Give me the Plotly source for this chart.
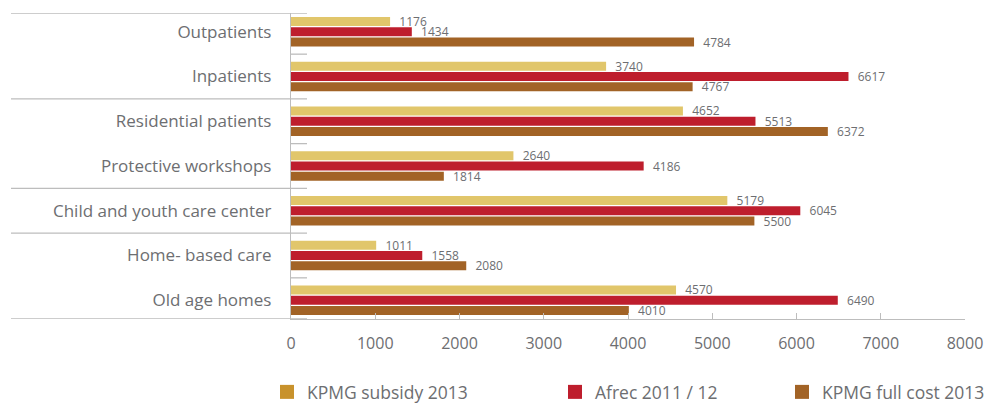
import plotly.graph_objects as go

categories = ["Outpatients", "Inpatients", "Residential patients", "Protective workshops",
              "Child and youth care center", "Home- based care", "Old age homes"]
kpmg_subsidy_2013 = [1176, 3740, 4652, 2640, 5179, 1011, 4570]
afrec_2011_12 = [1434, 6617, 5513, 4186, 6045, 1558, 6490]
kpmg_full_cost_2013 = [4784, 4767, 6372, 1814, 5500, 2080, 4010]
series_names = ["KPMG subsidy 2013", "Afrec 2011 / 12", "KPMG full cost 2013"]
x_ticks = [0, 1000, 2000, 3000, 4000, 5000, 6000, 7000, 8000]

bar_colors = ["#e1c66b", "#be1e2d", "#a26326"]
legend_colors = ["#c8922c", "#be1e2d", "#a26326"]
TEXT = "#6d6e71"
LINE = "#bdbdbd"
FONT = "Open Sans"

fig = go.Figure()
series = [kpmg_subsidy_2013, afrec_2011_12, kpmg_full_cost_2013]
for vals, name, col in zip(series, series_names, bar_colors):
    fig.add_trace(go.Bar(
        y=categories, x=vals, orientation="h", name=name,
        marker=dict(color=col, line=dict(width=0)),
        text=vals, texttemplate="\u00a0\u00a0%{x}", textposition="outside",
        constraintext="none", cliponaxis=False,
        textfont=dict(family=FONT, size=12, color=TEXT),
        showlegend=False, hoverinfo="x+y",
    ))

legend_names = ["legend", "legend2", "legend3"]
for name, col, lg in zip(series_names, legend_colors, legend_names):
    fig.add_trace(go.Scatter(
        x=[None], y=[None], mode="markers", name=name, legend=lg,
        marker=dict(symbol="square", size=14, color=col),
        showlegend=True,
    ))

# plot area geometry
L, R, T, B = 291, 25, 13, 84
W, H = 990, 403
pw = W - L - R
ph = H - T - B

def px_to_paper_x(px):
    return (px - L) / pw

def px_to_paper_y(py):
    return (H - B - py) / ph

shapes = []
for yb in [-0.42, 1.5, 3.5, 4.5, 6.42]:
    shapes.append(dict(type="line", xref="paper", yref="y",
                       x0=px_to_paper_x(11), x1=px_to_paper_x(307), y0=yb, y1=yb,
                       line=dict(color=LINE, width=1.3), layer="below"))
for yb in [0.5, 2.5, 5.5]:
    shapes.append(dict(type="line", xref="paper", yref="y",
                       x0=0, x1=px_to_paper_x(307), y0=yb, y1=yb,
                       line=dict(color=LINE, width=1.3), layer="below"))

legend_common = dict(orientation="h", yanchor="middle", y=px_to_paper_y(392), xanchor="left",
                     font=dict(family=FONT, size=17.5, color=TEXT),
                     bgcolor="rgba(0,0,0,0)", borderwidth=0)

fig.update_layout(
    width=W, height=H, autosize=False,
    margin=dict(l=L, r=R, t=T, b=B, pad=0, autoexpand=False),
    paper_bgcolor="white", plot_bgcolor="white",
    font=dict(family=FONT, color=TEXT),
    barmode="group", bargap=0.31, bargroupgap=0.13,
    shapes=shapes,
    xaxis=dict(range=[0, 8000], tickvals=x_ticks, ticktext=[str(v) for v in x_ticks],
               showgrid=False, zeroline=False, showline=True, linecolor=LINE, linewidth=1.3,
               ticks="inside", ticklen=6, tickwidth=1.3, tickcolor=LINE,
               tickfont=dict(family=FONT, size=16, color=TEXT), ticklabelstandoff=10,
               automargin=False),
    yaxis=dict(type="category", categoryarray=categories, range=[6.42, -0.42],
               showgrid=False, zeroline=False, showline=True, linecolor=LINE, linewidth=1.3,
               ticks="", tickfont=dict(family=FONT, size=17, color=TEXT), ticklabelstandoff=15,
               automargin=False),
    legend=dict(x=px_to_paper_x(267), **legend_common),
    legend2=dict(x=px_to_paper_x(555), **legend_common),
    legend3=dict(x=px_to_paper_x(782), **legend_common),
)

post = (
    "document.body.style.margin='0';document.body.style.padding='0';"
    "document.body.style.overflow='hidden';"
    "document.documentElement.style.overflow='hidden';"
)

fig.write_html(
    "out.html",
    config={"displayModeBar": False, "responsive": False},
    post_script=post,
)
